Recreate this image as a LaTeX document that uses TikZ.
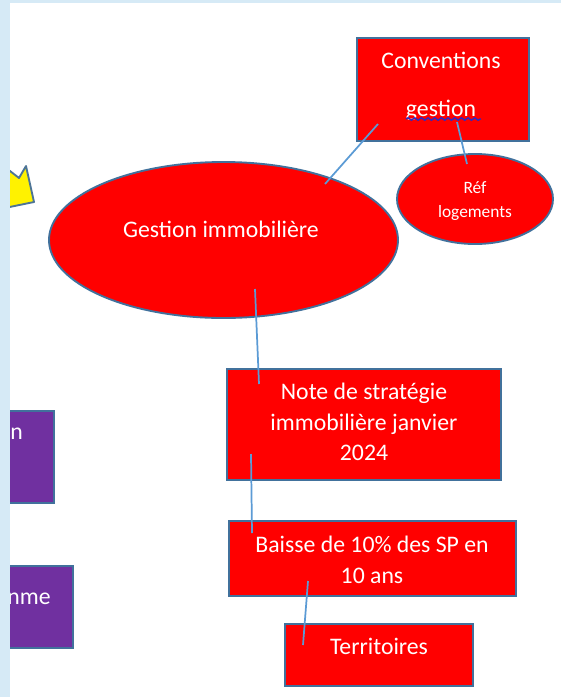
\documentclass[tikz,border=0pt]{standalone}
\usepackage{fontspec}
\setmainfont{Carlito}
\usetikzlibrary{shapes.geometric, decorations.pathmorphing}
\definecolor{bordure}{HTML}{41719C}
\definecolor{trait}{HTML}{5B9BD5}
\definecolor{violet}{HTML}{7030A0}
\definecolor{bande}{HTML}{D6EAF6}
\tikzset{
  taille/.style 2 args={minimum width=#1*0.75pt, minimum height=#2*0.75pt},
  boite/.style={draw=bordure, line width=1.4pt, fill=red, inner sep=0pt},
  rond/.style={boite, ellipse},
  carre/.style={boite, rectangle},
  carreviolet/.style={carre, fill=violet},
  texte/.style={text=white, align=center, inner sep=0pt, font=\fontsize{17.8}{23}\selectfont},
  lien/.style={draw=trait, line width=1.3pt}
}
\begin{document}
\begin{tikzpicture}[x=0.75pt, y=-0.75pt]
\useasboundingbox (0,0) rectangle (561,697);
\fill[white] (0,0) rectangle (561,697);
% forme jaune
\draw[fill=yellow, draw=bordure!80!gray, line width=1.4pt, line join=round] (-5,160) -- (10,171) -- (19,178) -- (26,166) -- (34,202) -- (-5,210) -- cycle;
% formes
\node (gestim) [rond, taille={349}{156}] at (223.5,240) {};
\node (conv) [carre, taille={172}{103}] at (443,89.5) {};
\node (ref) [rond, taille={156}{90}] at (475,199) {};
\node (note) [carre, taille={274}{111}] at (364,424.5) {};
\node (baisse) [carre, taille={287}{75}] at (372.5,558.5) {};
\node (terr) [carre, taille={188}{62}] at (379,655) {};
\node (prog) [carreviolet, taille={64}{92}] at (22,457) {};
\node (pgm) [carreviolet, taille={83}{82}] at (31.5,607) {};
% textes
\node (tgestim) [texte] at (221,229) {Gestion immobilière};
\node (tconv) [texte] at (441,60) {Conventions};
\node (tgest) [texte] at (441,110) {gestion};
\node (tref) [texte, font=\fontsize{13}{18}\selectfont] at (475,201) {Réf\\logements};
\node (tnote) [texte] at (364,422) {Note de stratégie\\immobilière janvier\\2024};
\node (tbaisse) [texte] at (372,560) {Baisse de 10\% des SP en\\10 ans};
\node (tterr) [texte] at (379,646) {Territoires};
\node (tprog) [texte, anchor=west] at (10,434) {n};
\node (tpgm) [texte, anchor=east] at (51,599) {nme};
\draw[draw={rgb,255:red,50;green,40;blue,190}, line width=1.1pt, decorate, decoration={snake, amplitude=0.9pt, segment length=5pt}] (406,119) -- (481,119);
% liens
\coordinate (c1) at (378,124);
\coordinate (c2) at (325,184);
\coordinate (c3) at (457,122);
\coordinate (c4) at (467,164);
\coordinate (c5) at (255,289);
\coordinate (c6) at (259,384);
\coordinate (c7) at (251,454);
\coordinate (c8) at (252,533);
\coordinate (c9) at (308,581);
\coordinate (c10) at (303,645);
\draw[lien] (c1) -- (c2);
\draw[lien] (c3) -- (c4);
\draw[lien] (c5) -- (c6);
\draw[lien] (c7) -- (c8);
\draw[lien] (c9) -- (c10);
% bandes
\fill[bande] (0,0) rectangle (10,697);
\fill[bande] (0,0) rectangle (561,3);
\end{tikzpicture}
\end{document}
